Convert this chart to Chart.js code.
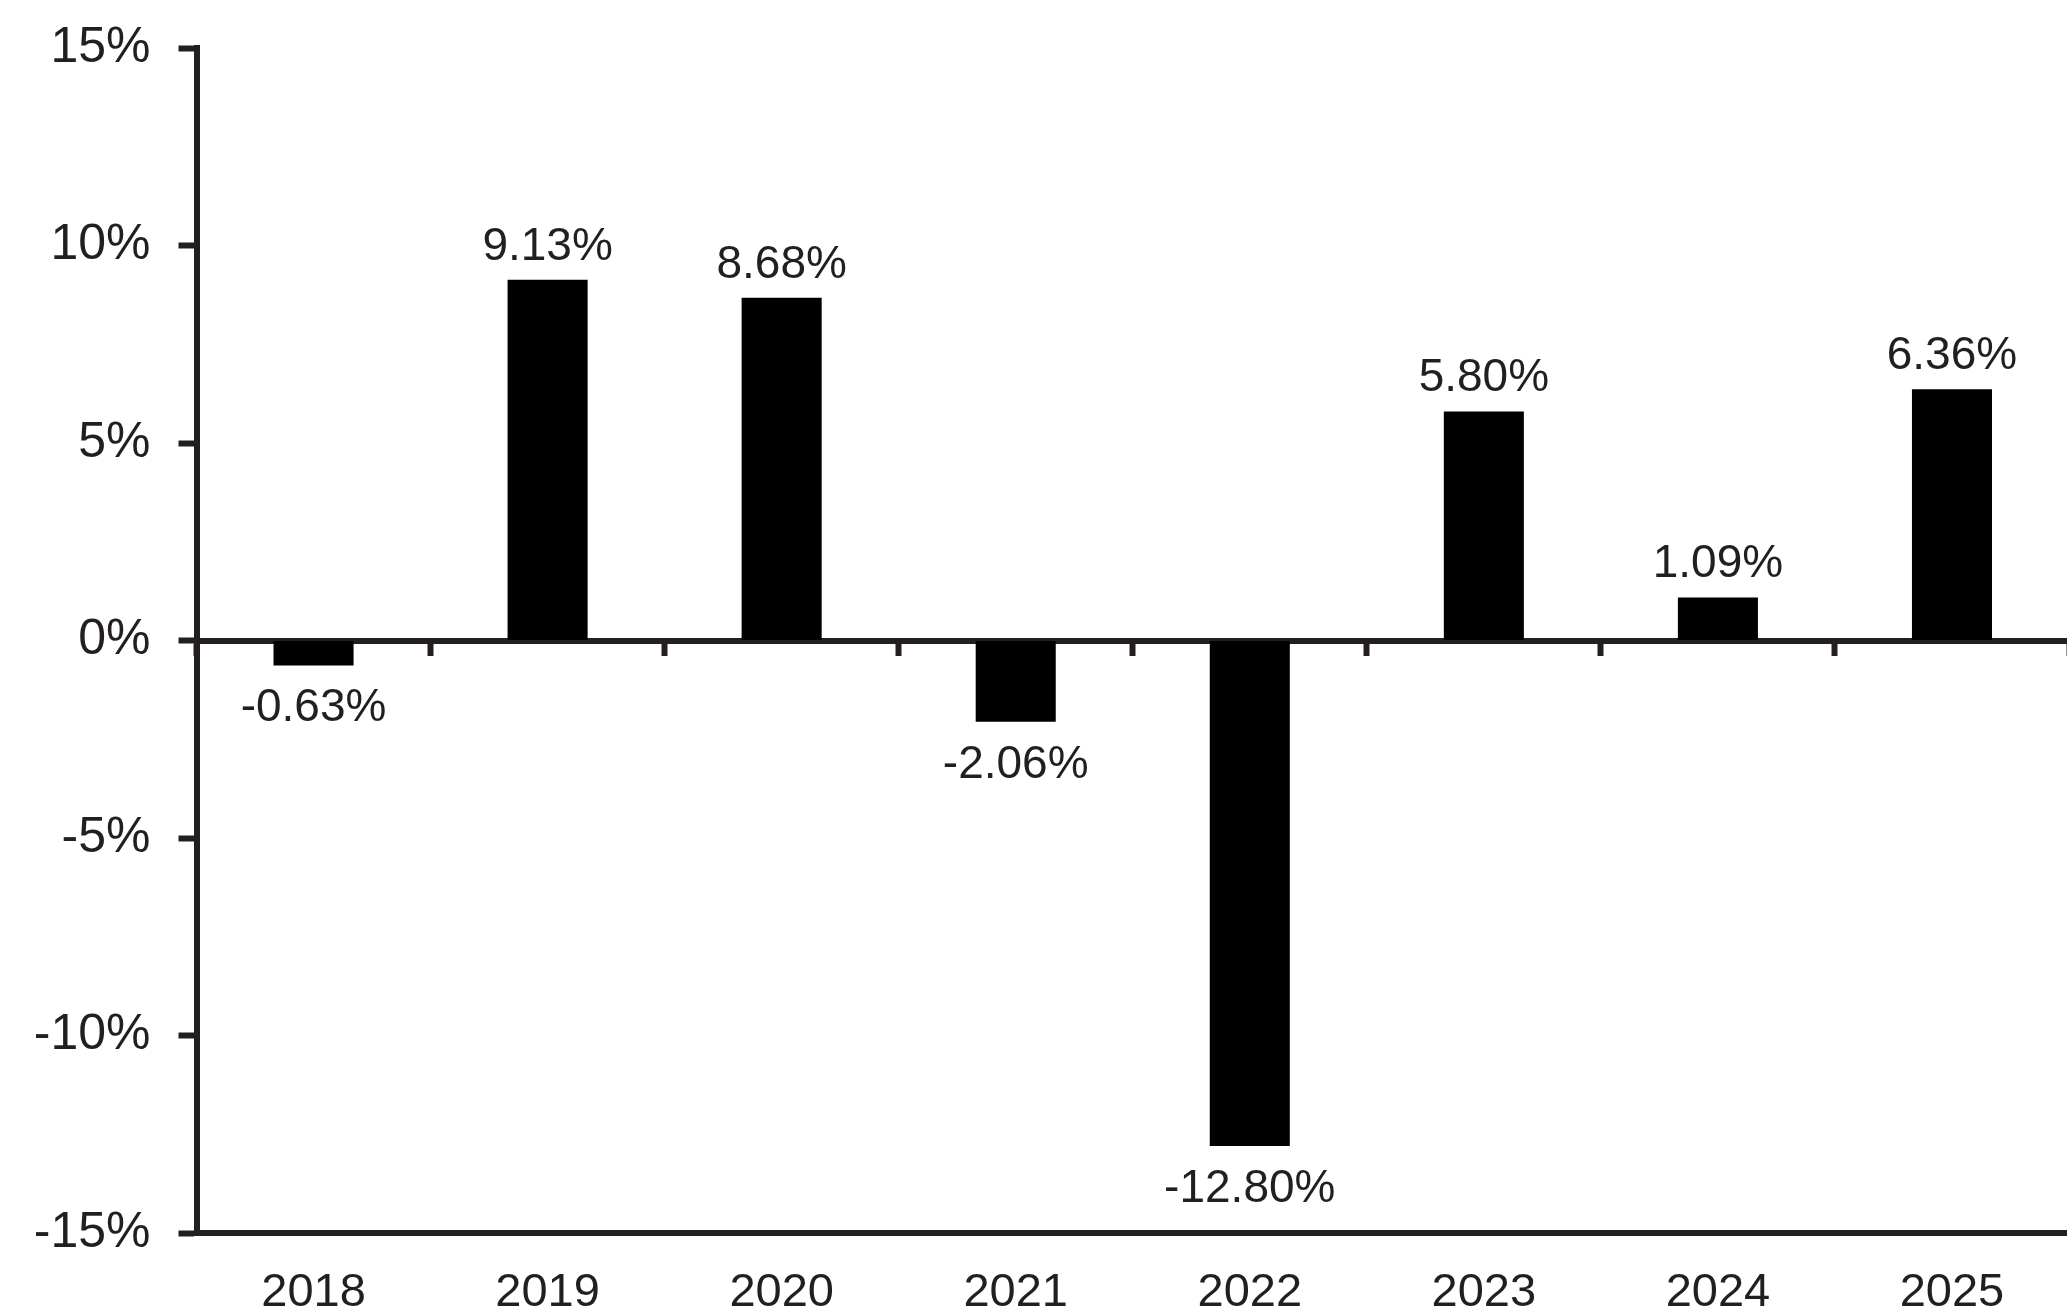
<!DOCTYPE html>
<html>
<head>
<meta charset="utf-8">
<script src="https://cdn.jsdelivr.net/npm/chart.js@4/dist/chart.umd.min.js"></script>
<style>
  html, body { margin: 0; padding: 0; background: #fff; overflow: hidden; }
  #wrap { width: 2069px; height: 1308px; }
</style>
</head>
<body>
<div id="wrap"><canvas id="returnsChart" width="2069" height="1308"></canvas></div>
<script>
// Annual returns
const years = ["2018", "2019", "2020", "2021", "2022", "2023", "2024", "2025"];
const returns = [-0.63, 9.13, 8.68, -2.06, -12.80, 5.80, 1.09, 6.36];
const yTicks = [-15, -10, -5, 0, 5, 10, 15];

const ink = "#231f20";
const font = "'Liberation Sans', Arial, sans-serif";

// Value labels above / below each bar
const valueLabels = {
    id: "valueLabels",
    afterDatasetsDraw(chart) {
        const ctx = chart.ctx;
        const meta = chart.getDatasetMeta(0);
        ctx.save();
        ctx.fillStyle = ink;
        ctx.font = "46px " + font;
        ctx.textAlign = "center";
        ctx.textBaseline = "alphabetic";
        meta.data.forEach((bar, i) => {
            const v = returns[i];
            const txt = v.toFixed(2) + "%";
            if (v >= 0) {
                ctx.fillText(txt, bar.x, bar.y - 20);
            } else {
                ctx.fillText(txt, bar.x, bar.y + 56);
            }
        });
        ctx.restore();
    }
};

new Chart(document.getElementById("returnsChart"), {
    type: "bar",
    data: {
        labels: years,
        datasets: [{
            data: returns,
            backgroundColor: "#000",
            borderWidth: 0,
            barPercentage: 0.342,
            categoryPercentage: 1.0
        }]
    },
    options: {
        responsive: false,
        animation: false,
        layout: { padding: { top: 48, right: 0, bottom: 0, left: 0 } },
        plugins: { legend: { display: false }, tooltip: { enabled: false } },
        scales: {
            y: {
                min: -15,
                max: 15,
                afterBuildTicks(scale) { scale.ticks = yTicks.map(v => ({ value: v })); },
                afterFit(scale) {
                    scale.width = 196.5;
                    scale.paddingTop = 0;
                    scale.paddingBottom = 0;
                },
                border: { display: true, color: ink, width: 6 },
                grid: { drawOnChartArea: false, drawTicks: true, tickLength: 18, tickWidth: 6, color: ink },
                ticks: {
                    padding: 28,
                    color: ink,
                    font: { family: font, size: 50 },
                    callback: v => v + "%"
                }
            },
            x: {
                position: "bottom",
                afterFit(scale) {
                    scale.height = 75;
                    scale.paddingLeft = 0;
                    scale.paddingRight = 0;
                },
                border: { display: true, color: ink, width: 6 },
                grid: { drawOnChartArea: false, drawTicks: false },
                ticks: {
                    padding: 32,
                    color: ink,
                    maxRotation: 0,
                    font: { family: font, size: 47 }
                }
            },
            x2: {
                type: "category",
                labels: years,
                position: { y: 0 },
                afterFit(scale) { scale.height = 0; },
                border: { display: true, color: ink, width: 6 },
                grid: { offset: true, drawOnChartArea: false, drawTicks: true, tickLength: 12, tickWidth: 6, color: ink },
                ticks: { display: false }
            }
        }
    },
    plugins: [valueLabels]
});
</script>
</body>
</html>
